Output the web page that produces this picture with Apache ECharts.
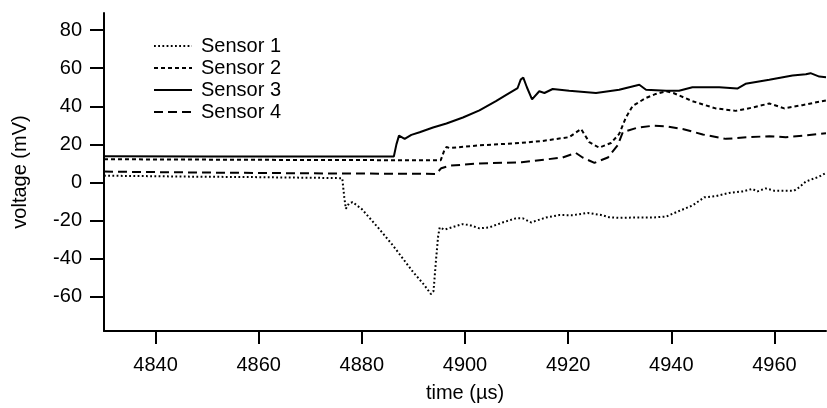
<!DOCTYPE html>
<html>
<head>
<meta charset="utf-8">
<script src="https://cdn.jsdelivr.net/npm/echarts@6/dist/echarts.min.js"></script>
<style>
html,body{margin:0;padding:0;background:#fff;}
#chart{width:827px;height:408px;}
</style>
</head>
<body>
<div id="chart"></div>
<script>
var seriesNames = ['Sensor 1', 'Sensor 2', 'Sensor 3', 'Sensor 4'];
var xTicks = [4840, 4860, 4880, 4900, 4920, 4940, 4960];
var yTicks = [-60, -40, -20, 0, 20, 40, 60, 80];

var sensor1 = [[4830,3.6],[4835,3.4],[4840,3.3],[4845,3.1],[4850,3.0],[4855,2.9],[4860,2.8],[4865,2.6],[4870,2.5],[4875,2.3],[4876.2,2.2],[4876.6,-8],[4876.9,-13.8],[4877.5,-11],[4878.2,-10.3],[4880,-14],[4883.4,-24.5],[4886,-33],[4889.9,-46.9],[4892,-53.5],[4893.4,-58.6],[4893.9,-57],[4894.4,-40],[4894.8,-28],[4895.1,-23.6],[4896,-24.8],[4898,-23.1],[4899.5,-21.9],[4900.9,-22.4],[4902.8,-24.1],[4904.7,-23.6],[4907.3,-21.0],[4909.9,-18.8],[4911.2,-18.8],[4912.8,-21.0],[4915.7,-18.4],[4918.3,-17.1],[4920.9,-17.2],[4923.8,-16.0],[4926.4,-17.1],[4928,-18.3],[4930,-18.6],[4933,-18.4],[4936.4,-18.4],[4939,-17.9],[4941.5,-15],[4944.1,-12.1],[4946.4,-7.8],[4948.6,-7.2],[4951.2,-5.5],[4953.8,-4.7],[4955.7,-3.4],[4956.7,-4.7],[4958.3,-3.1],[4959.9,-4.3],[4963.8,-4.3],[4964.8,-2.6],[4966.1,0.5],[4968.7,3.1],[4970,5]];

var sensor2 = [[4830,12.2],[4850,12.0],[4870,11.8],[4890,11.7],[4895.3,11.7],[4896.0,17],[4896.4,18.6],[4897,18.1],[4902.8,19.5],[4910.6,20.7],[4915,21.8],[4920.2,23.8],[4922.5,28.1],[4924.1,21.2],[4926,18.3],[4928.3,20.7],[4929.9,25.5],[4931.2,34.1],[4932.5,40.2],[4935.1,44.4],[4937,46.5],[4939,47.9],[4940.4,47.0],[4944.1,42.7],[4948.6,38.9],[4952.5,37.6],[4955.7,39.3],[4959,41.5],[4961.9,38.9],[4965.4,40.6],[4970,43.1]];

var sensor3 = [[4830,13.8],[4850,13.7],[4870,13.6],[4886.2,13.6],[4886.7,20],[4887.2,24.6],[4888.3,22.9],[4889.6,25.0],[4891.2,26.4],[4893.8,28.9],[4896.4,31.0],[4899.6,34.1],[4902.8,37.9],[4906,42.7],[4908,46],[4910.2,49.6],[4910.8,54],[4911.3,55.1],[4912,50],[4913,43.6],[4914.4,47.9],[4915.4,47.0],[4917,49.1],[4920.2,48.2],[4925.4,47.0],[4929.9,48.7],[4933.8,51.3],[4935.1,48.7],[4939,48.2],[4941.5,48.2],[4944.1,50.0],[4949.3,50.0],[4952.8,49.3],[4954.4,51.8],[4959,53.9],[4963.5,56.2],[4966.1,56.8],[4967,57.4],[4968.7,55.6],[4970,55.3]];

var sensor4 = [[4830,5.7],[4850,5.2],[4870,4.8],[4894.4,4.5],[4895.4,7.5],[4897,8.8],[4902.8,10.0],[4911,10.6],[4918.9,13.1],[4921.5,15.5],[4922.8,13.1],[4925.1,10.3],[4927.7,13.1],[4929.6,19.5],[4930.6,26.4],[4933.2,28.6],[4936.4,29.8],[4939,29.5],[4942.2,28.1],[4946.1,25.2],[4950.6,22.9],[4955.1,23.8],[4959,24.3],[4962.2,23.8],[4966.1,24.7],[4970,25.8]];

var allData = [sensor1, sensor2, sensor3, sensor4];
var dashTypes = [[1.8, 2.4], [4, 3], 'solid', [9, 5]];
var FONT = '"Liberation Sans", Arial, sans-serif';
var FS = 20;

var chart = echarts.init(document.getElementById('chart'), null, {renderer: 'canvas'});
var series = seriesNames.map(function (n, i) {
  return {
    name: n,
    type: 'line',
    data: allData[i],
    showSymbol: false,
    symbol: 'none',
    animation: false,
    lineStyle: {color: '#000', width: 2, type: dashTypes[i]},
    itemStyle: {color: '#000'}
  };
});

chart.setOption({
  animation: false,
  backgroundColor: '#fff',
  textStyle: {fontFamily: FONT},
  grid: {left: 104, right: 1, top: 13, bottom: 71, containLabel: false},
  legend: {
    orient: 'vertical',
    left: 148,
    top: 30,
    itemWidth: 38,
    itemHeight: 14,
    itemGap: 0,
    data: seriesNames,
    itemStyle: {opacity: 0},
    textStyle: {fontFamily: FONT, fontSize: FS, color: '#000', lineHeight: 22, padding: [0, 0, 0, 4]}
  },
  xAxis: {
    type: 'value',
    min: 4830,
    max: 4970,
    name: 'time (\u00b5s)',
    nameLocation: 'middle',
    nameGap: 52,
    nameTextStyle: {fontFamily: FONT, fontSize: FS, color: '#000'},
    axisLine: {show: true, onZero: false, lineStyle: {color: '#000', width: 2}},
    axisTick: {show: true, inside: false, length: 13, lineStyle: {color: '#000', width: 2}, customValues: xTicks},
    axisLabel: {fontFamily: FONT, fontSize: FS, color: '#000', margin: 24, customValues: xTicks,
      formatter: function (v) { return String(v); }},
    splitLine: {show: false}
  },
  yAxis: {
    type: 'value',
    min: -78,
    max: 89,
    name: 'voltage (mV)',
    nameLocation: 'middle',
    nameGap: 74,
    nameTextStyle: {fontFamily: FONT, fontSize: FS, color: '#000'},
    axisLine: {show: true, onZero: false, lineStyle: {color: '#000', width: 2}},
    axisTick: {show: true, inside: false, length: 14, lineStyle: {color: '#000', width: 2}, customValues: yTicks},
    axisLabel: {fontFamily: FONT, fontSize: FS, color: '#000', margin: 22, customValues: yTicks,
      formatter: function (v) { return String(v); }},
    splitLine: {show: false}
  },
  series: series
});
</script>
</body>
</html>
